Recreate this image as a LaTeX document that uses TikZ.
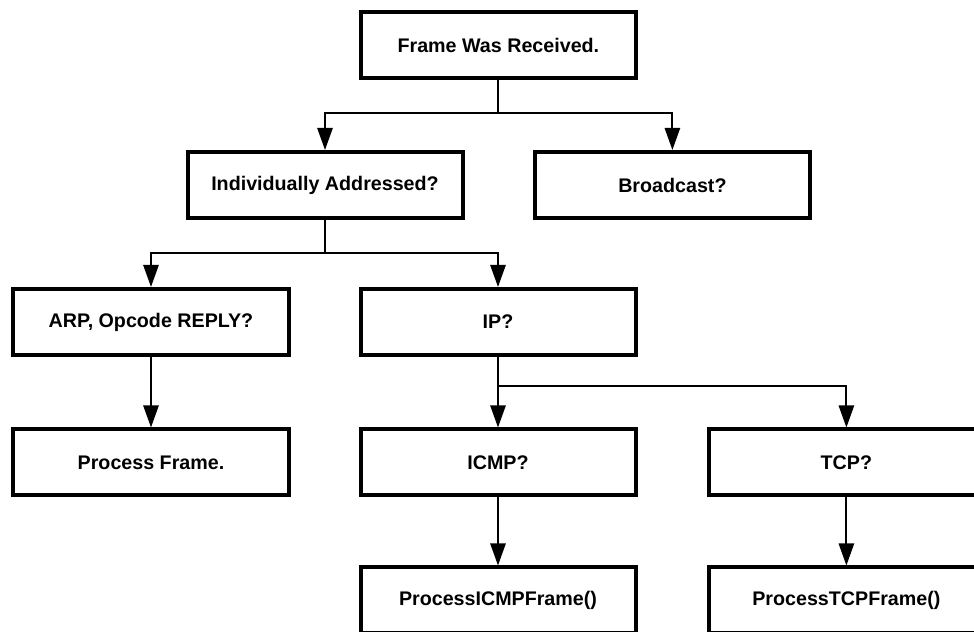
\documentclass[tikz,border=0pt]{standalone}
\usepackage{fontspec}
\setmainfont{Liberation Sans}
\usetikzlibrary{arrows.meta}

\begin{document}
\begin{tikzpicture}[
    box/.style={draw, line width=0.1cm, minimum width=6.875cm, minimum height=1.65cm, inner sep=0pt,
        font=\fontsize{14}{16}\selectfont\bfseries},
    link/.style={line width=0.05cm, -{Triangle[length=0.55cm, width=0.38cm]}},
    wire/.style={line width=0.05cm}]
    \useasboundingbox (0,0) rectangle (24.35,-15.8);
    \clip (0,0) rectangle (24.35,-15.8);

    \node[box] (frame) at (12.46,-1.125) {Frame Was Received.};
    \node[box] (indiv) at (8.125,-4.625) {Individually Addressed?};
    \node[box] (bcast) at (16.81,-4.625) {Broadcast?};
    \node[box] (arp) at (3.775,-8.05) {ARP, Opcode REPLY?};
    \node[box] (ip) at (12.45,-8.05) {IP?};
    \node[box] (proc) at (3.775,-11.5625) {Process Frame.};
    \node[box] (icmp) at (12.45,-11.5625) {ICMP?};
    \node[box] (tcp) at (21.16,-11.5625) {TCP?};
    \node[box] (picmp) at (12.45,-15.0125) {ProcessICMPFrame()};
    \node[box] (ptcp) at (21.16,-15.0125) {ProcessTCPFrame()};

    \coordinate (fork1) at (12.46,-2.825);
    \coordinate (fork2) at (8.125,-6.325);
    \coordinate (fork3) at (12.45,-9.65);

    \draw[wire] (frame.south) -- (fork1);
    \draw[link] (fork1) -| (indiv.north);
    \draw[link] (fork1) -| (bcast.north);
    \draw[wire] (indiv.south) -- (fork2);
    \draw[link] (fork2) -| (arp.north);
    \draw[link] (fork2) -| (ip.north);
    \draw[link] (arp.south) -- (proc.north);
    \draw[link] (ip.south) -- (icmp.north);
    \draw[link] (fork3) -| (tcp.north);
    \draw[link] (icmp.south) -- (picmp.north);
    \draw[link] (tcp.south) -- (ptcp.north);
\end{tikzpicture}
\end{document}
